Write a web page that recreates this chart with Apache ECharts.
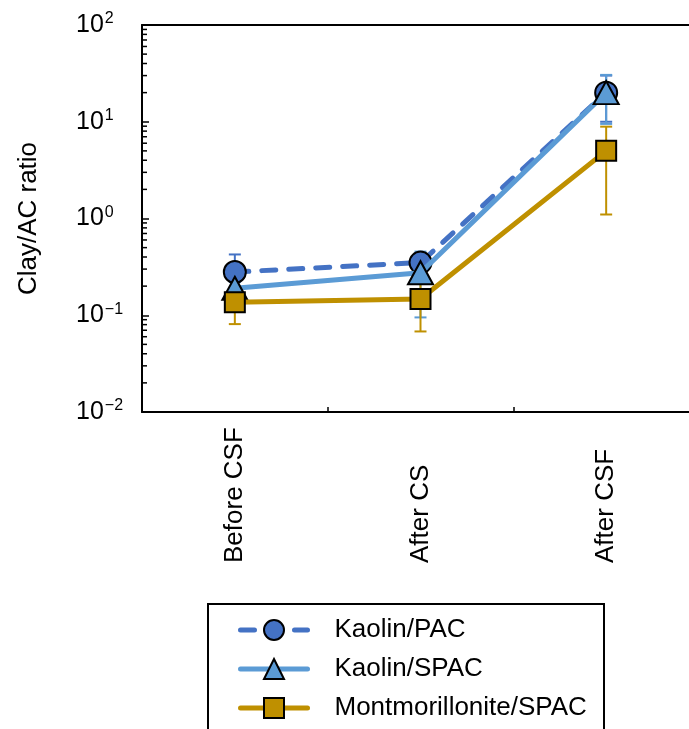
<!DOCTYPE html>
<html>
<head>
<meta charset="utf-8">
<script src="https://cdn.jsdelivr.net/npm/echarts@6/dist/echarts.min.js"></script>
<style>
  html, body { margin: 0; padding: 0; background: #fff; overflow: hidden; }
  #chart { width: 689px; height: 729px; }
</style>
</head>
<body>
<div id="chart"></div>
<script>
// Sampling stages along the x axis
var categories = ['Before CSF', 'After CS', 'After CSF'];

// Mean clay/AC ratios for each system
var kaolinPAC = [0.28, 0.35, 20];
var kaolinSPAC = [0.19, 0.275, 20];
var montSPAC = [0.136, 0.147, 5.0];

// Standard deviations (drawn as symmetric error bars)
var kaolinPACErr = [0.145, 0.04, 10];
var kaolinSPACErr = [0.03, 0.18, 10.5];
var montSPACErr = [0.055, 0.079, 3.9];

// Decade exponents used for the log-axis labels
var decadeExponents = [-2, -1, 0, 1, 2];

var seriesNames = ['Kaolin/PAC', 'Kaolin/SPAC', 'Montmorillonite/SPAC'];
var colors = ['#4472C4', '#5B9BD5', '#BF9000'];
var FONT = 'Liberation Sans, Arial, Helvetica, sans-serif';
var PAC_DASH = [14, 13];

function errorData(means, errs) {
  return means.map(function (m, i) { return [i, m - errs[i], m + errs[i]]; });
}

function errorBarSeries(means, errs, color) {
  return {
    type: 'custom',
    data: errorData(means, errs),
    encode: { x: 0, y: [1, 2] },
    z: 1,
    silent: true,
    renderItem: function (params, api) {
      var x = api.value(0);
      var lo = api.coord([x, api.value(1)]);
      var hi = api.coord([x, api.value(2)]);
      var half = 6;
      var style = { stroke: color, lineWidth: 2 };
      return {
        type: 'group',
        children: [
          { type: 'line', shape: { x1: hi[0], y1: hi[1], x2: lo[0], y2: lo[1] }, style: style },
          { type: 'line', shape: { x1: hi[0] - half, y1: hi[1], x2: hi[0] + half, y2: hi[1] }, style: style },
          { type: 'line', shape: { x1: lo[0] - half, y1: lo[1], x2: lo[0] + half, y2: lo[1] }, style: style }
        ]
      };
    }
  };
}

// Minor tick positions (2..9 within each decade) for the log axis
var minorTickValues = [];
for (var d = 0; d < decadeExponents.length - 1; d++) {
  for (var k = 2; k <= 9; k++) {
    minorTickValues.push([0, k * Math.pow(10, decadeExponents[d])]);
  }
}

function expLabel(v) {
  var e = Math.round(Math.log10(v));
  var s = String(e).replace('-', '\u2212');
  return '10{sup|' + s + '}';
}

var chart = echarts.init(document.getElementById('chart'), null, { renderer: 'canvas' });

var option = {
  animation: false,
  backgroundColor: '#ffffff',
  textStyle: { fontFamily: FONT },
  grid: {
    left: 142, top: 25, width: 557, bottom: 317,
    outerBoundsMode: 'none',
    containLabel: false,
    show: false
  },
  xAxis: [
    {
      type: 'category',
      data: categories,
      boundaryGap: true,
      axisLine: { lineStyle: { color: '#000', width: 2 } },
      axisTick: { show: true, inside: true, length: 5, alignWithLabel: false, lineStyle: { color: '#000', width: 1.5 } },
      axisLabel: {
        rotate: 90, align: 'left', verticalAlign: 'middle', margin: 151,
        color: '#000', fontSize: 26, fontFamily: FONT
      },
      splitLine: { show: false }
    },
    {
      // Plain frame line along the top of the plot area
      type: 'category',
      position: 'top',
      data: categories,
      boundaryGap: true,
      axisLine: { show: true, lineStyle: { color: '#000', width: 2 } },
      axisTick: { show: false },
      axisLabel: { show: false },
      splitLine: { show: false }
    }
  ],
  yAxis: {
    type: 'log',
    logBase: 10,
    min: 0.01,
    max: 100,
    name: 'Clay/AC ratio',
    nameLocation: 'middle',
    nameRotate: 90,
    nameGap: 100,
    nameTextStyle: { color: '#000', fontSize: 26, fontFamily: FONT },
    axisLine: { show: true, lineStyle: { color: '#000', width: 2 } },
    axisTick: { show: true, inside: true, length: 7, lineStyle: { color: '#000', width: 1.5 } },
    minorTick: { show: false },
    splitLine: { show: false },
    axisLabel: {
      align: 'left', margin: 66,
      color: '#000', fontSize: 25, fontFamily: FONT,
      formatter: expLabel,
      rich: {
        sup: { fontSize: 16, fontFamily: FONT, color: '#000', verticalAlign: 'top', padding: [0, 0, 12, 1] }
      }
    }
  },
  legend: {
    data: [
      { name: seriesNames[0], lineStyle: { width: 5, color: colors[0], type: PAC_DASH, cap: 'round' } },
      { name: seriesNames[1], lineStyle: { width: 5, color: colors[1], cap: 'round' } },
      { name: seriesNames[2], lineStyle: { width: 5, color: colors[2], cap: 'round' } }
    ],
    orient: 'vertical',
    left: 238,
    top: 617,
    padding: 0,
    itemWidth: 67,
    itemHeight: 25,
    itemGap: 13,
    textStyle: { color: '#000', fontSize: 26, fontFamily: FONT, padding: [0, 0, 0, 22] }
  },
  graphic: [
    {
      // Legend frame
      type: 'rect',
      shape: { x: 208, y: 604, width: 396, height: 200 },
      style: { fill: 'none', stroke: '#000', lineWidth: 2 },
      silent: true
    }
  ],
  series: [
    errorBarSeries(kaolinPAC, kaolinPACErr, colors[0]),
    errorBarSeries(kaolinSPAC, kaolinSPACErr, colors[1]),
    errorBarSeries(montSPAC, montSPACErr, colors[2]),
    {
      name: seriesNames[0],
      type: 'line',
      data: kaolinPAC,
      z: 3,
      symbol: 'circle',
      symbolSize: 22,
      lineStyle: { color: colors[0], width: 5, type: PAC_DASH, cap: 'round' },
      itemStyle: { color: colors[0], borderColor: '#000', borderWidth: 2 }
    },
    {
      name: seriesNames[1],
      type: 'line',
      data: kaolinSPAC,
      z: 4,
      symbol: 'triangle',
      symbolSize: [25, 23],
      lineStyle: { color: colors[1], width: 5 },
      itemStyle: { color: colors[1], borderColor: '#000', borderWidth: 2 }
    },
    {
      name: seriesNames[2],
      type: 'line',
      data: montSPAC,
      z: 5,
      symbol: 'rect',
      symbolSize: 20,
      lineStyle: { color: colors[2], width: 5 },
      itemStyle: { color: colors[2], borderColor: '#000', borderWidth: 2 }
    },
    {
      // Minor ticks for the log axis, drawn just inside the axis line
      type: 'custom',
      data: minorTickValues,
      encode: { x: 0, y: 1 },
      z: 2,
      silent: true,
      renderItem: function (params, api) {
        var y = api.coord([0, api.value(1)])[1];
        var x0 = params.coordSys.x;
        return {
          type: 'line',
          shape: { x1: x0, y1: y, x2: x0 + 5, y2: y },
          style: { stroke: '#000', lineWidth: 1.5 }
        };
      }
    }
  ]
};

chart.setOption(option);
</script>
</body>
</html>
